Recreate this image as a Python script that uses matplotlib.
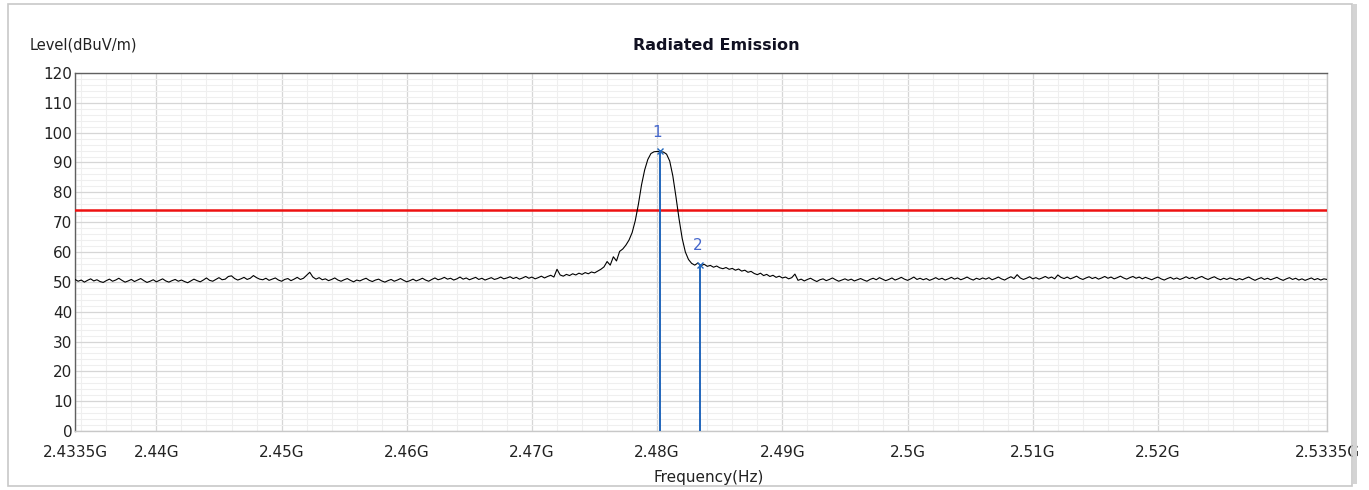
import numpy as np
import matplotlib
matplotlib.use("Agg")
import matplotlib.pyplot as plt
from matplotlib.patches import Rectangle

# ---------------- data ----------------
f_start = 2.4335e9
f_stop = 2.5335e9
n_points = 401

level_left = [
    50.8, 50.2, 50.6, 49.9, 50.5, 51.0, 50.3, 50.7, 50.1, 49.8, 50.4, 50.9, 50.2, 50.6, 51.2, 50.5, 49.9, 50.3, 50.8, 50.1,
    50.6, 51.1, 50.4, 49.8, 50.2, 50.7, 50.0, 50.5, 51.0, 50.3, 49.9, 50.4, 50.8, 50.2, 50.6, 50.1, 49.7, 50.3, 50.9, 50.4,
    50.0, 50.6, 51.3, 50.5, 50.2, 50.8, 51.4, 50.7, 50.9, 51.8, 52.0, 51.1, 50.6, 51.0, 51.5, 50.8, 51.2, 52.1, 51.4, 50.9,
    50.7, 51.2, 50.5, 50.9, 51.3, 50.6, 50.2, 50.8, 51.1, 50.4, 50.9, 51.5, 50.8, 51.2, 52.2, 53.2, 51.6, 50.9, 51.4, 50.7,
    51.0, 50.4, 50.8, 51.3, 50.6, 50.2, 50.7, 51.1, 50.5, 50.0, 50.6, 50.3, 50.8, 51.2, 50.5, 50.1, 50.6, 50.9, 50.3, 49.9,
    50.4, 50.8, 50.2, 50.6, 51.1, 50.5, 50.0, 50.4, 50.9, 50.3, 50.7, 51.2, 50.6, 50.2, 50.8, 51.3, 50.7, 51.0, 51.5, 50.9,
    51.2, 50.6, 51.0, 51.6, 50.9, 51.3, 50.7, 51.1, 51.5, 50.8, 51.2, 50.6, 51.0, 51.4, 50.8, 51.1, 51.6, 51.0, 51.3, 51.7,
    51.1, 51.5, 50.9, 51.3, 51.8, 51.2, 51.6, 51.0,
]

level_peak = [
    51.4, 51.9, 51.3, 51.8, 52.2, 51.6, 54.2, 52.3, 51.9, 52.5,
    52.1, 52.7, 52.3, 52.9, 52.5, 53.1, 52.7, 53.3, 53.0, 53.6,
    54.2, 55.0, 56.8, 55.6, 58.4, 57.0, 60.2, 61.0, 62.3, 64.0,
    66.5, 70.5, 76.0, 82.5, 87.5, 91.0, 93.0, 93.6, 93.7, 93.6,
    93.5, 92.8, 90.5, 85.5, 78.5, 71.0, 64.5, 60.0, 57.5, 56.2,
    55.6, 56.3, 55.4, 55.9, 55.2, 55.5, 54.9, 55.3, 54.7, 54.4,
    54.8, 54.2, 54.5, 53.9, 54.3, 53.6, 53.9, 53.2, 53.5, 52.8,
    52.4, 52.9, 52.1, 52.5, 51.8, 52.2, 51.5, 51.9, 51.3, 51.6,
    51.0, 51.4, 52.6,
]

level_right = [
    50.5, 50.9, 50.3, 50.8, 51.2, 50.6, 50.1, 50.7, 51.0, 50.4, 50.8, 51.3, 50.7, 50.2, 50.6, 51.0, 50.5, 50.9, 50.3, 50.7,
    51.1, 50.6, 50.2, 50.8, 51.2, 50.7, 51.4, 50.9, 50.4, 50.8, 51.3, 50.6, 51.0, 51.5, 50.9, 50.5, 51.0, 51.6, 50.8, 51.2,
    50.7, 51.1, 50.5, 50.9, 51.4, 50.8, 51.2, 50.6, 51.0, 51.5, 50.9, 51.3, 50.7, 51.1, 51.6, 51.0, 50.6, 51.2, 50.8, 51.3,
    50.9, 51.4, 50.7, 51.1, 51.6, 51.0, 50.6, 51.2, 51.7, 51.1, 52.4, 51.3, 50.8, 51.2, 51.7, 51.0, 51.4, 50.9, 51.3, 51.8,
    51.2, 51.6, 51.0, 52.3, 51.5, 51.1, 51.6, 51.0, 51.4, 51.9, 51.2, 50.8, 51.3, 51.7, 51.1, 51.5, 50.9, 51.3, 51.8, 51.2,
    51.6, 51.0, 51.4, 51.9, 51.3, 50.9, 51.4, 51.8, 51.2, 51.6, 51.0, 51.5, 51.1, 50.7, 51.2, 51.6, 51.0, 50.6, 51.1, 51.5,
    50.9, 51.3, 50.8, 51.2, 51.7, 51.1, 51.5, 50.9, 51.4, 51.8, 51.2, 50.8, 51.3, 51.7, 51.1, 50.7, 51.2, 50.8, 51.3, 51.0,
    50.6, 51.1, 50.7, 51.2, 51.6, 51.0, 50.5, 51.0, 51.4, 50.8, 51.2, 50.7, 51.1, 51.5, 50.9, 50.5, 51.0, 51.4, 50.8, 51.2,
    50.6, 51.0, 50.5, 50.9, 51.3, 50.7, 51.1, 50.6, 51.0, 50.8,
]

limit_level = 74.0
marker_freqs = [2.4802e9, 2.4834e9]
marker_levels = [93.7, 55.8]
marker_labels = ["1", "2"]

x_tick_values = [2.4335e9, 2.44e9, 2.45e9, 2.46e9, 2.47e9, 2.48e9, 2.49e9, 2.50e9, 2.51e9, 2.52e9, 2.5335e9]
x_tick_labels = ["2.4335G", "2.44G", "2.45G", "2.46G", "2.47G", "2.48G", "2.49G", "2.5G", "2.51G", "2.52G", "2.5335G"]
y_tick_values = list(range(0, 121, 10))

levels = np.array(level_left + level_peak + level_right)
freqs = np.linspace(f_start, f_stop, len(levels))

# ---------------- figure ----------------
W, H = 1369, 490
fig = plt.figure(figsize=(W / 100, H / 100), dpi=100)
fig.patch.set_facecolor("white")

# outer frame
fig.patches.append(Rectangle((8 / W, 4 / H), (1352 - 8) / W, (486 - 4) / H,
                             transform=fig.transFigure, fill=False,
                             edgecolor="#c8c8c8", linewidth=1.2))
fig.patches.append(Rectangle((1353 / W, 6 / H), 4 / W, (486 - 6) / H,
                             transform=fig.transFigure, facecolor="#d4d4d4",
                             edgecolor="none"))

ax_l, ax_r, ax_t, ax_b = 75, 1327, 73, 431
ax = fig.add_axes([ax_l / W, 1 - ax_b / H, (ax_r - ax_l) / W, (ax_b - ax_t) / H])
ax.set_xlim(f_start, f_stop)
ax.set_ylim(0, 120)

# grid
ax.set_xticks(np.arange(2.434e9, 2.5335e9, 0.002e9), minor=True)
ax.set_yticks(np.arange(0, 121, 2), minor=True)
ax.grid(which="minor", color="#efefef", linewidth=0.8)
ax.set_xticks(x_tick_values)
ax.set_xticklabels(x_tick_labels)
ax.set_yticks(y_tick_values)
ax.grid(which="major", color="#d6d6d6", linewidth=0.9)
ax.set_axisbelow(True)
ax.tick_params(which="both", length=0)
ax.tick_params(axis="x", pad=10, labelsize=11, colors="#222222")
ax.tick_params(axis="y", pad=2, labelsize=11, colors="#222222")

for name, sp in ax.spines.items():
    sp.set_color("#606060")
    sp.set_linewidth(1.0)
ax.spines["bottom"].set_color("#c8c8c8")
ax.spines["right"].set_color("#c8c8c8")

# limit line
ax.axhline(limit_level, color="#ee1111", linewidth=1.8, zorder=3)

# markers
for mf, ml, lab in zip(marker_freqs, marker_levels, marker_labels):
    ax.plot([mf, mf], [0, ml], color="#2266bb", linewidth=1.4, zorder=4)
    ax.plot([mf], [ml], marker="x", color="#2266bb", markersize=5, mew=1.0, zorder=5)
    ax.text(mf - 0.0002e9, ml + 4, lab, color="#4466cc", fontsize=11,
            ha="center", va="bottom", zorder=6)

# trace
ax.plot(freqs, levels, color="black", linewidth=0.8, zorder=4)

# texts
fig.text(30 / W, 1 - 45 / H, "Level(dBuV/m)", fontsize=10.5, color="#222222",
         ha="left", va="center")
fig.text(716 / W, 1 - 46 / H, "Radiated Emission", fontsize=11.5, fontweight="bold",
         color="#111122", ha="center", va="center")
fig.text(709 / W, 1 - 477 / H, "Frequency(Hz)", fontsize=11, color="#222222",
         ha="center", va="center")

fig.savefig("out.png", dpi=100, facecolor="white")
